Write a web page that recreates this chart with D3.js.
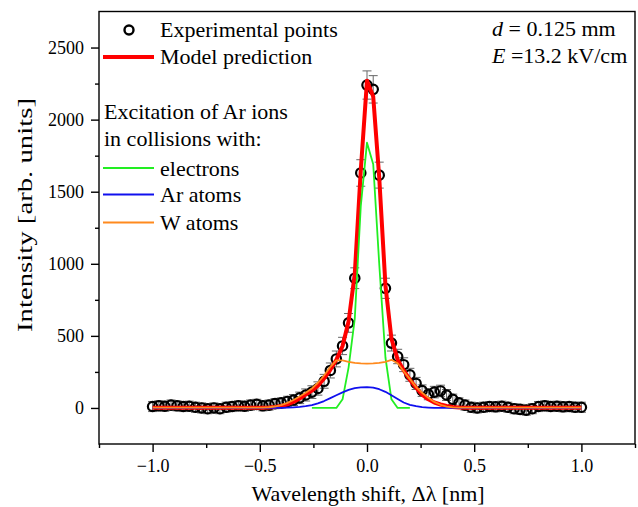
<!DOCTYPE html>
<html>
<head>
<meta charset="utf-8">
<script src="https://cdn.jsdelivr.net/npm/d3@7"></script>
<style>
  body { margin: 0; background: #fff; }
  svg text { font-family: "Liberation Serif", "Times New Roman", serif; fill: #000; }
</style>
</head>
<body>
<svg id="chart" width="638" height="507"></svg>
<script>
// wavelength shift grid [nm]
const shift = [
  -1.0, -0.971, -0.943, -0.914, -0.886, -0.857, -0.829, -0.8, -0.771, -0.743,
  -0.714, -0.686, -0.657, -0.629, -0.6, -0.571, -0.543, -0.514, -0.486, -0.457,
  -0.429, -0.4, -0.371, -0.343, -0.314, -0.286, -0.257, -0.229, -0.2, -0.171,
  -0.143, -0.114, -0.086, -0.057, -0.029, 0.0, 0.029, 0.057, 0.086, 0.114,
  0.143, 0.171, 0.2, 0.229, 0.257, 0.286, 0.314, 0.343, 0.371, 0.4,
  0.429, 0.457, 0.486, 0.514, 0.543, 0.571, 0.6, 0.629, 0.657, 0.686,
  0.714, 0.743, 0.771, 0.8, 0.829, 0.857, 0.886, 0.914, 0.943, 0.971, 1.0
]

const measured = [
  10, 15, 12, 20, 15, 10, 12, 5, 0, -5,
  0, -5, 5, 10, 15, 12, 20, 25, 15, 20,
  30, 35, 45, 55, 70, 90, 110, 135, 185, 260,
  340, 430, 590, 900, 1630, 2240, 2210, 1615, 830, 450,
  357, 300, 230, 170, 120, 95, 110, 118, 90, 60,
  35, 20, 5, 0, 5, 10, 8, 12, 5, -5,
  -10, -15, -5, 10, 15, 10, 12, 8, 10, 5, 5
]

const measuredErr = [
  35, 35, 35, 35, 35, 35, 35, 35, 35, 35,
  35, 35, 35, 35, 35, 35, 35, 35, 35, 35,
  35, 35, 36, 38, 40, 42, 44, 46, 48, 52,
  55, 60, 65, 72, 92, 98, 95, 90, 70, 55,
  50, 48, 45, 42, 40, 38, 40, 40, 38, 36,
  35, 35, 35, 35, 35, 35, 35, 35, 35, 35,
  35, 35, 35, 35, 35, 35, 35, 35, 35, 35, 35
]

const model = [
  2, 2, 2, 2, 2, 2, 2, 2, 2, 2,
  2, 2, 2, 2, 2, 2, 2, 2, 2, 3,
  7, 14, 25, 42, 65, 92, 120, 155, 205, 265,
  334, 430, 600, 930, 1650, 2270, 2160, 1600, 850, 480,
  335, 262, 195, 140, 93, 60, 38, 24, 14, 7,
  3, 2, 2, 2, 2, 2, 2, 2, 2, 2,
  2, 2, 2, 2, 2, 2, 2, 2, 2, 2, 2
]

const wAtoms = [
  2, 2, 2, 2, 2, 2, 2, 2, 2, 2,
  2, 2, 2, 2, 2, 2, 2, 2, 3, 5,
  10, 20, 35, 55, 80, 105, 135, 175, 225, 285,
  330, 330, 320, 313, 309, 307, 309, 313, 320, 334,
  310, 255, 200, 145, 105, 70, 42, 22, 10, 4,
  2, 2, 2, 2, 2, 2, 2, 2, 2, 2,
  2, 2, 2, 2, 2, 2, 2, 2, 2, 2, 2
]

const arAtoms = [
  0, 0, 0, 0, 0, 0, 0, 0, 0, 0,
  0, 0, 0, 0, 0, 0, 0, 0, 0, 0,
  0, 0, 2, 4, 7, 12, 20, 32, 48, 68,
  88, 108, 125, 137, 143, 145, 141, 130, 112, 88,
  62, 38, 22, 12, 6, 3, 1, 0, 0, 0,
  0, 0, 0, 0, 0, 0, 0, 0, 0, 0,
  0, 0, 0, 0, 0, 0, 0, 0, 0, 0, 0
]

const electronShift = [-0.257, -0.229, -0.2, -0.171, -0.143, -0.114, -0.086, -0.057, -0.029, 0.0, 0.029, 0.057, 0.086, 0.114, 0.143, 0.171, 0.2]
const electrons = [0, 0, 0, 0, 0, 60, 280, 620, 1400, 1840, 1690, 1000, 350, 60, 0, 0, 0]

const xMajor = [-1.0, -0.5, 0.0, 0.5, 1.0]
const xMinor = [-1.25, -0.75, -0.25, 0.25, 0.75, 1.25]
const yMajor = [0, 500, 1000, 1500, 2000, 2500]
const yMinor = [250, 750, 1250, 1750, 2250]

const svg = d3.select('#chart')

const x = d3.scaleLinear().domain([-1.25, 1.25]).range([99, 635])
const y = d3.scaleLinear().domain([-250, 2750]).range([444, 11.5])

const red = '#ff0000'
const green = '#22ee22'
const blue = '#1010ee'
const orange = '#ff8a1e'

// axes
const gx = svg.append('g').attr('transform', `translate(0,${y(-250)})`)
gx.call(d3.axisBottom(x).tickValues(xMajor).tickSize(8).tickPadding(7).tickFormat(d3.format('.1f')))
gx.append('g').call(d3.axisBottom(x).tickValues(xMinor).tickSize(4).tickFormat(''))
gx.selectAll('.domain').remove()

const gy = svg.append('g').attr('transform', `translate(${x(-1.25)},0)`)
gy.call(d3.axisLeft(y).tickValues(yMajor).tickSize(8).tickPadding(7).tickFormat(d3.format('d')))
gy.append('g').call(d3.axisLeft(y).tickValues(yMinor).tickSize(4).tickFormat(''))
gy.selectAll('.domain').remove()

svg.selectAll('.tick line').attr('stroke', '#000').attr('stroke-width', 1.4)
svg.selectAll('.tick text')
  .style('font-family', '"Liberation Serif", "Times New Roman", serif')
  .style('font-size', '18px')
  .attr('fill', '#000')

svg.append('rect')
  .attr('x', x(-1.25)).attr('y', y(2750))
  .attr('width', x(1.25) - x(-1.25)).attr('height', y(-250) - y(2750))
  .attr('fill', 'none').attr('stroke', '#000').attr('stroke-width', 1.4)

// measured points with error bars
const pts = shift.map((s, i) => ({ s, v: measured[i], e: measuredErr[i] }))

const eb = svg.append('g').attr('stroke', '#666').attr('stroke-width', 1)
eb.selectAll('line.bar').data(pts).enter().append('line')
  .attr('x1', d => x(d.s)).attr('x2', d => x(d.s))
  .attr('y1', d => y(d.v - d.e)).attr('y2', d => y(d.v + d.e))
eb.selectAll('line.capT').data(pts).enter().append('line')
  .attr('x1', d => x(d.s) - 4.5).attr('x2', d => x(d.s) + 4.5)
  .attr('y1', d => y(d.v + d.e)).attr('y2', d => y(d.v + d.e))
eb.selectAll('line.capB').data(pts).enter().append('line')
  .attr('x1', d => x(d.s) - 4.5).attr('x2', d => x(d.s) + 4.5)
  .attr('y1', d => y(d.v - d.e)).attr('y2', d => y(d.v - d.e))

svg.append('g').selectAll('circle').data(pts).enter().append('circle')
  .attr('cx', d => x(d.s)).attr('cy', d => y(d.v))
  .attr('r', 4.7)
  .attr('fill', 'none').attr('stroke', '#000').attr('stroke-width', 2.2)

// model curves
const line = d3.line().x(d => x(d[0])).y(d => y(d[1]))
const zipped = (xs, ys) => xs.map((v, i) => [v, ys[i]])

function curve (xs, ys, colour, w) {
  svg.append('path')
    .attr('d', line(zipped(xs, ys)))
    .attr('fill', 'none')
    .attr('stroke', colour)
    .attr('stroke-width', w)
    .attr('stroke-linejoin', 'round')
}

curve(shift, model, red, 4)
curve(electronShift, electrons, green, 1.8)
curve(shift, arAtoms, blue, 1.8)
curve(shift, wAtoms, orange, 1.8)

// legend
const lg = svg.append('g').style('font-size', '22px')
lg.append('circle').attr('cx', 129).attr('cy', 30).attr('r', 4.5)
  .attr('fill', 'none').attr('stroke', '#000').attr('stroke-width', 2.4)
lg.append('text').attr('x', 160).attr('y', 37).text('Experimental points')
lg.append('line').attr('x1', 103).attr('x2', 154).attr('y1', 57).attr('y2', 57)
  .attr('stroke', red).attr('stroke-width', 4)
lg.append('text').attr('x', 160).attr('y', 64).text('Model prediction')
lg.append('text').attr('x', 104).attr('y', 119).text('Excitation of Ar ions')
lg.append('text').attr('x', 104).attr('y', 146).text('in collisions with:')

const comps = [['electrons', green, 168], ['Ar atoms', blue, 194.5], ['W atoms', orange, 222.5]]
comps.forEach(c => {
  lg.append('line').attr('x1', 103).attr('x2', 154).attr('y1', c[2]).attr('y2', c[2])
    .attr('stroke', c[1]).attr('stroke-width', 1.8)
  lg.append('text').attr('x', 160).attr('y', c[2] + 7.5).text(c[0])
})

// conditions
const cond = svg.append('g').style('font-size', '22px')
const t1 = cond.append('text').attr('x', 492).attr('y', 36)
t1.append('tspan').style('font-style', 'italic').text('d')
t1.append('tspan').text(' = 0.125 mm')
const t2 = cond.append('text').attr('x', 492).attr('y', 63)
t2.append('tspan').style('font-style', 'italic').text('E')
t2.append('tspan').text(' =13.2 kV/cm')

// axis titles
svg.append('text')
  .attr('transform', 'translate(32,215) rotate(-90)')
  .attr('text-anchor', 'middle')
  .attr('textLength', 234)
  .attr('lengthAdjust', 'spacingAndGlyphs')
  .style('font-size', '22px')
  .text('Intensity [arb. units]')

svg.append('text')
  .attr('x', 368).attr('y', 501)
  .attr('text-anchor', 'middle')
  .style('font-size', '22px')
  .text('Wavelength shift, Δλ [nm]')
</script>
</body>
</html>
